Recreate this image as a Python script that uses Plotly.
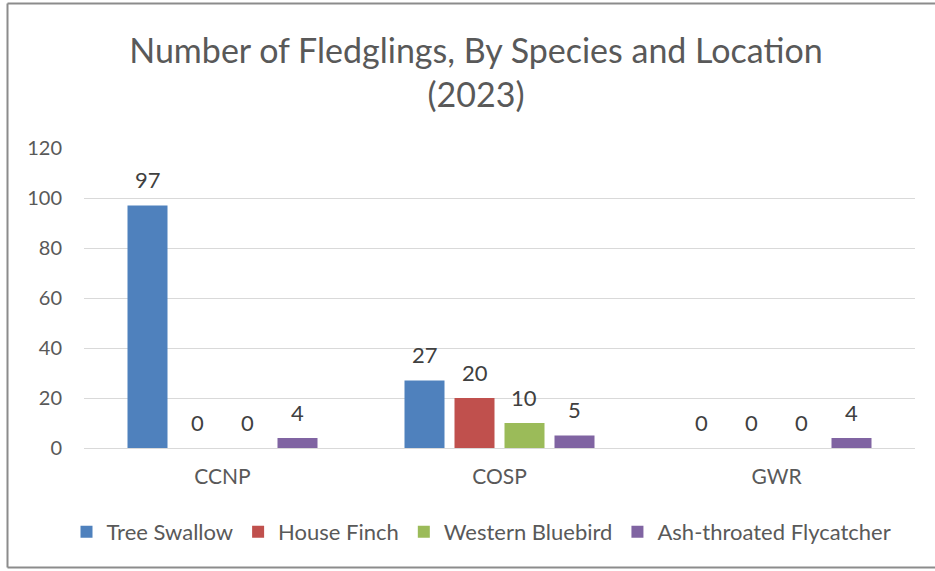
import plotly.graph_objects as go

locations = ["CCNP", "COSP", "GWR"]
series_names = ["Tree Swallow", "House Finch", "Western Bluebird", "Ash-throated Flycatcher"]
tree_swallow = [97, 27, 0]
house_finch = [0, 20, 0]
western_bluebird = [0, 10, 0]
ash_throated = [4, 5, 4]
colors = ["#4F81BD", "#C0504D", "#9BBB59", "#8064A2"]
y_ticks = [0, 20, 40, 60, 80, 100, 120]

FONT = "Lato, Open Sans, sans-serif"
all_series = [tree_swallow, house_finch, western_bluebird, ash_throated]
fig = go.Figure()
for name, vals, c in zip(series_names, all_series, colors):
    fig.add_trace(go.Bar(
        x=locations, y=vals, name=name, marker_color=c, marker_line_width=0,
    ))

W, H = 935, 571
L, R, T, B = 84, 20, 148, 123
pw, ph = W - L - R, H - T - B
def px(x):
    return (x - L) / pw
def py(y):
    return (H - B - y) / ph

# data labels above bars
n = len(all_series)
slot = pw / len(locations) * (1 - 0.278) / n
for i, vals in enumerate(all_series):
    for loc, v in zip(locations, vals):
        fig.add_annotation(x=loc, y=v, text=str(v), showarrow=False,
                           xshift=(i - (n - 1) / 2) * slot, yshift=26, yanchor="middle",
                           font=dict(size=22, color="#404040", family=FONT))

border = dict(color="#8c8c8c", width=2)
fig.add_shape(type="line", xref="paper", yref="paper", x0=px(7.5), x1=px(7.5), y0=py(3.5), y1=py(567.5), line=border)
fig.add_shape(type="line", xref="paper", yref="paper", x0=px(7.5), x1=px(940), y0=py(3.5), y1=py(3.5), line=border)
fig.add_shape(type="line", xref="paper", yref="paper", x0=px(7.5), x1=px(940), y0=py(567.5), y1=py(567.5), line=border)

fig.update_layout(
    width=W, height=H,
    margin=dict(l=L, r=R, t=T, b=B),
    paper_bgcolor="white", plot_bgcolor="white",
    barmode="group", bargap=0.278, bargroupgap=0.2,
    font=dict(family=FONT, color="#595959"),
    title=dict(text="Number of Fledglings, By Species and Location<br>(2023)",
               x=px(476), xref="paper", xanchor="center", y=1 - 63 / H, yanchor="middle",
               font=dict(size=34, color="#595959", family=FONT)),
    legend=dict(orientation="h", x=px(481.5), xanchor="center", y=py(532), yanchor="middle",
                font=dict(size=22, color="#595959", family=FONT), itemwidth=30,
                traceorder="normal"),
    showlegend=True,
)
fig.update_yaxes(range=[0, 120], tickvals=y_ticks, showgrid=True, gridcolor="#d9d9d9", gridwidth=1,
                 zeroline=False, showline=False, ticks="", tickfont=dict(size=20, color="#595959"),
                 ticklabelstandoff=21)
fig.update_xaxes(showline=True, linecolor="#d9d9d9", linewidth=1, ticks="",
                 tickfont=dict(size=21, color="#595959"), ticklabelstandoff=10)

fig.write_html("out.html")
